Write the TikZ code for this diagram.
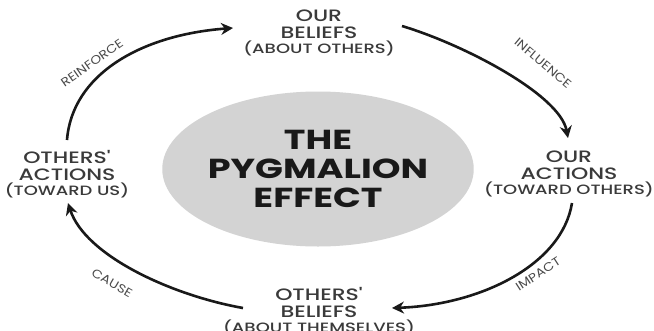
\documentclass[tikz,border=0pt]{standalone}
\usepackage{fontspec}
\setmainfont{Poppins}[FakeStretch=1.33]
\newfontfamily\popmed{Poppins Medium}[FakeStretch=1.33]
\newfontfamily\poplbl{Poppins}[FakeStretch=1.15]
\usetikzlibrary{arrows.meta,shapes.geometric}
\definecolor{txt}{HTML}{3A3A3A}
\definecolor{lbl}{HTML}{4A4A4A}
\definecolor{blob}{HTML}{D3D3D3}
\tikzset{
  stage/.style={align=center, text=txt, inner sep=0pt,
    font=\popmed\fontsize{16.5}{17}\selectfont},
  flow/.style={line width=2.6pt, -{Stealth[length=12pt,width=12pt]}, black!90},
  flowlabel/.style={text=lbl, font=\poplbl\fontsize{12}{12}\selectfont, inner sep=0pt},
}
\newcommand{\sm}[1]{{\fontsize{13.5}{13.5}\selectfont #1}}
\begin{document}
\begin{tikzpicture}[x=1pt,y=-1pt]
\useasboundingbox (0,0) rectangle (654,330);
\fill[white] (0,0) rectangle (654,330);

\node[ellipse, fill=blob, minimum width=283pt, minimum height=155pt, inner sep=0pt,
      align=center, text=black!90, font=\fontsize{27.5}{29}\selectfont\bfseries]
  (core) at (318,169) {THE\\PYGMALION\\EFFECT};

\node[stage] (ob) at (319,33) {OUR\\BELIEFS\\[-2pt]\sm{(ABOUT OTHERS)}};
\node[stage] (oa) at (569,174) {OUR\\ACTIONS\\[-2pt]\sm{(TOWARD OTHERS)}};
\node[stage] (tb) at (319,311) {OTHERS'\\BELIEFS\\[-2pt]\sm{(ABOUT THEMSELVES)}};
\node[stage] (ta) at (67,174) {OTHERS'\\ACTIONS\\[-2pt]\sm{(TOWARD US)}};

\coordinate (r1) at (67,140);  \coordinate (r2) at (233,28);
\coordinate (i1) at (402,26);  \coordinate (i2) at (568,138);
\coordinate (m1) at (572,203); \coordinate (m2) at (392,308);
\coordinate (c1) at (243,308); \coordinate (c2) at (68,203);

\draw[flow] (r1) .. controls (72,75) and (140,35) .. (r2);
\draw[flow] (i1) .. controls (465,45) and (560,95) .. (i2);
\draw[flow] (m1) .. controls (562,265) and (480,305) .. (m2);
\draw[flow] (c1) .. controls (170,295) and (85,255) .. (c2);

\node[flowlabel, rotate=35] (lr) at (92,63) {REINFORCE};
\node[flowlabel, rotate=-40] (li) at (543,63) {INFLUENCE};
\node[flowlabel, rotate=33] (lm) at (538,274) {IMPACT};
\node[flowlabel, rotate=-30] (lc) at (112,283) {CAUSE};
\end{tikzpicture}
\end{document}
